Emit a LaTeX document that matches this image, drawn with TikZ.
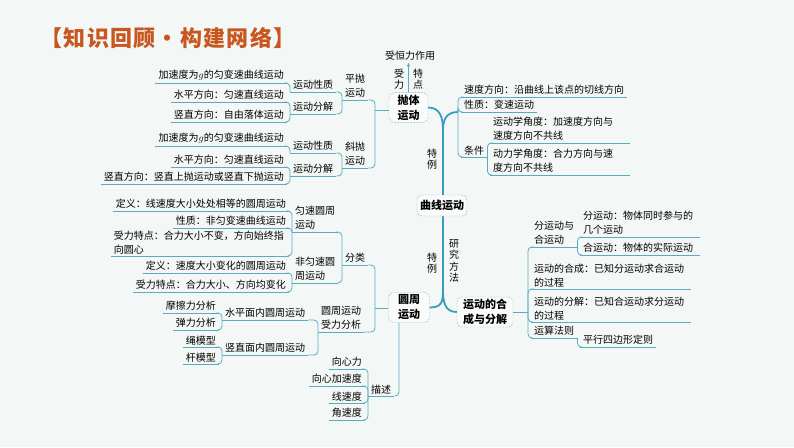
\documentclass[tikz,border=0pt]{standalone}
\usepackage{fontspec}
\setmainfont{Noto Sans CJK SC}
\newfontfamily\ttlfont[LetterSpace=6]{Noto Sans CJK SC}
\usepackage{tikz}
\usetikzlibrary{arrows.meta}
\definecolor{bgc}{HTML}{F3F8F6}
\definecolor{lnc}{HTML}{5AAAC4}
\definecolor{tkc}{HTML}{3A9BBE}
\definecolor{ttc}{HTML}{C8561E}
\definecolor{bdc}{HTML}{8DB4C2}
\tikzset{
  lf/.style={font=\fontsize{10}{14}\selectfont, inner xsep=3pt, inner ysep=2pt, align=left},
  lfl/.style={lf, anchor=south east},
  lfr/.style={lf, anchor=south west},
  vt/.style={font=\fontsize{10}{11.5}\selectfont, align=center, inner sep=0pt},
  bx/.style={draw=bdc, dash pattern=on 2pt off 1.2pt, rounded corners=5pt, fill=white!55!bgc,
             font=\bfseries\fontsize{11}{15}\selectfont, align=center, inner sep=2pt},
  cn/.style={draw=lnc, line width=0.8pt, rounded corners=4pt},
  ul/.style={draw=lnc, line width=0.8pt},
  tk/.style={draw=tkc, line width=1.8pt},
  ttl/.style={font=\ttlfont\bfseries\fontsize{22}{28}\selectfont, text=ttc, inner sep=0pt}
}
\begin{document}
\begin{tikzpicture}[x=1pt,y=-1pt]
  \path[fill=bgc, use as bounding box] (0,0) rectangle (794,447);
  \node[ttl] (tl) at (168,38) {【知识回顾•构建网络】};

  % boxes on the trunk
  \node[bx, minimum width=39pt, minimum height=29pt] (pt) at (408.5,107.5) {抛体\\运动};
  \node[bx, minimum width=41pt, minimum height=30pt] (yz) at (409,307.5) {圆周\\运动};
  \node[bx, minimum width=56pt, minimum height=30pt] (hc) at (485,312) {运动的合\\成与分解};
  \coordinate (tt) at (443,130);
  \coordinate (tb) at (443,290);
  \coordinate (rj) at (458,112);
  \draw[tk] (pt.east) .. controls +(12,0) and +(0,-12) .. (tt) -- (tb) .. controls +(0,12) and +(12,0) .. (yz.east);
  \draw[tk] (rj) .. controls +(-12,0) and +(0,-10) .. (tt);
  \draw[tk] (tb) .. controls +(0,12) and +(-12,0) .. (hc.west);
  \node[bx, minimum width=50pt, minimum height=21pt] (qx) at (442,205.5) {曲线运动};
  \node[vt] (ty1) at (432,159) {特\\例};
  \node[vt] (ty2) at (432,263) {特\\例};
  \node[vt] (yf) at (454,261) {研\\究\\方\\法};

  % force label above
  \node[lf] (hl) at (410,56) {受恒力作用};
  \draw[cn, -{Stealth[length=4pt,width=3.5pt]}] (pt.north) -- (pt.north |- hl.south);
  \node[vt] (sf) at (399,79) {受\\力};
  \node[vt] (td) at (418,79) {特\\点};

  % projectile branch
  \coordinate (pj) at (375,110);
  \node[lfr] (pp) at (342,100) {平抛\\运动};
  \node[lfr] (xp) at (342,168) {斜抛\\运动};
  \node[lfr] (ld1) at (290,92) {运动性质};
  \node[lfr] (ld2) at (290,114) {运动分解};
  \node[lfr] (ld3) at (290,153) {运动性质};
  \node[lfr] (ld4) at (290,176) {运动分解};
  \node[lfl] (lt1) at (287,83) {加速度为$g$的匀变速曲线运动};
  \node[lfl] (lt2) at (287,102) {水平方向：匀速直线运动};
  \node[lfl] (lt3) at (287,122) {竖直方向：自由落体运动};
  \node[lfl] (lt4) at (287,146) {加速度为$g$的匀变速曲线运动};
  \node[lfl] (lt5) at (287,167) {水平方向：匀速直线运动};
  \node[lfl] (lt6) at (287,184) {竖直方向：竖直上抛运动或竖直下抛运动};
  \draw[cn] (pj) -- (pt.west |- pj);
  \draw[cn] (pp.south east) -| (pj);
  \draw[cn] (xp.south east) -| (pj);

  % right upper branch
  \node[lfr] (r1) at (461,97) {速度方向：沿曲线上该点的切线方向};
  \node[lfr] (r2) at (461,112) {性质：变速运动};
  \node[lfr] (r3) at (461,157) {条件};
  \node[lfr, text width=134pt] (r4) at (490,143) {运动学角度：加速度方向与\\速度方向不共线};
  \node[lfr, text width=134pt] (r5) at (490,175) {动力学角度：合力方向与速\\度方向不共线};
  \foreach \c in {r1,r2,r3} \draw[cn] (rj) |- (\c.south west);
  \foreach \c in {r4,r5} \draw[cn] (r3.south east) |- (\c.south west);

  % right lower branch
  \coordinate (hj) at (528,312);
  \draw[cn] (hc.east) -- (hj);
  \node[lfr] (s1) at (531,247) {分运动与\\合运动};
  \node[lfr, text width=114pt] (s1a) at (580,237) {分运动：物体同时参与的\\几个运动};
  \node[lfr, text width=114pt] (s1b) at (580,255) {合运动：物体的实际运动};
  \node[lfr, text width=154pt] (s2) at (531,289) {运动的合成：已知分运动求合运动\\的过程};
  \node[lfr, text width=154pt] (s3) at (531,322) {运动的分解：已知合运动求分运动\\的过程};
  \node[lfr] (s4) at (531,338) {运算法则};
  \node[lfr] (s4a) at (580,347) {平行四边形定则};
  \foreach \c in {s1,s2,s3,s4} \draw[cn] (hj) |- (\c.south west);
  \foreach \c in {s1a,s1b} \draw[cn] (s1.south east) |- (\c.south west);
  \draw[cn] (s4.south east) |- (s4a.south west);

  % circular motion branch
  \coordinate (yj) at (375,308);
  \draw[cn] (yj) -- (yz.west |- yj);
  \node[lfr] (fl) at (342,265) {分类};
  \node[lfr] (sl) at (318,332) {圆周运动\\受力分析};
  \node[lfr] (ys) at (292,232) {匀速圆周\\运动};
  \node[lfr] (fys) at (292,283) {非匀速圆\\周运动};
  \node[lfl] (y1) at (289,211) {定义：线速度大小处处相等的圆周运动};
  \node[lfl] (y2) at (289,228) {性质：非匀变速曲线运动};
  \node[lfl, text width=172pt] (y3) at (289,256) {受力特点：合力大小不变，方向始终指\\向圆心};
  \node[lfl] (f1) at (289,273) {定义：速度大小变化的圆周运动};
  \node[lfl] (f2) at (289,292) {受力特点：合力大小、方向均变化};
  \node[lfr] (sp) at (222,320) {水平面内圆周运动};
  \node[lfr] (sv) at (222,355) {竖直面内圆周运动};
  \node[lfl] (m1) at (219,313) {摩擦力分析};
  \node[lfl] (m2) at (219,330) {弹力分析};
  \node[lfl] (m3) at (219,347) {绳模型};
  \node[lfl] (m4) at (219,364) {杆模型};
  \node[lfr] (ms) at (368,396) {描述};
  \node[lfl] (d1) at (365,369) {向心力};
  \node[lfl] (d2) at (365,386) {向心加速度};
  \node[lfl] (d3) at (365,403) {线速度};
  \node[lfl] (d4) at (365,420) {角速度};
  \draw[cn] (fl.south east) -| (yj);
  \draw[cn] (sl.south east) -| (yj);
  \draw[cn] (ms.south east) -| ([xshift=-10pt]yz.south);

  % left-hand links
  \foreach \c/\p in {lt1/ld1, lt2/ld2, lt3/ld2, ld1/pp, ld2/pp, lt4/ld3, lt5/ld4, lt6/ld4, ld3/xp, ld4/xp,
                     ys/fl, fys/fl, y1/ys, y2/ys, y3/ys, f1/fys, f2/fys, sp/sl, sv/sl,
                     m1/sp, m2/sp, m3/sv, m4/sv, d1/ms, d2/ms, d3/ms, d4/ms}
    \draw[cn] (\c.south east) -| (\p.south west);

  % underlines
  \foreach \n in {pp,xp,ld1,ld2,ld3,ld4,lt1,lt2,lt3,lt4,lt5,lt6,r1,r2,r3,r4,r5,s1,s1a,s1b,s2,s3,s4,s4a,
                  fl,sl,ys,fys,y1,y2,y3,f1,f2,sp,sv,m1,m2,m3,m4,ms,d1,d2,d3,d4}
    \draw[ul] (\n.south west) -- (\n.south east);
\end{tikzpicture}
\end{document}
